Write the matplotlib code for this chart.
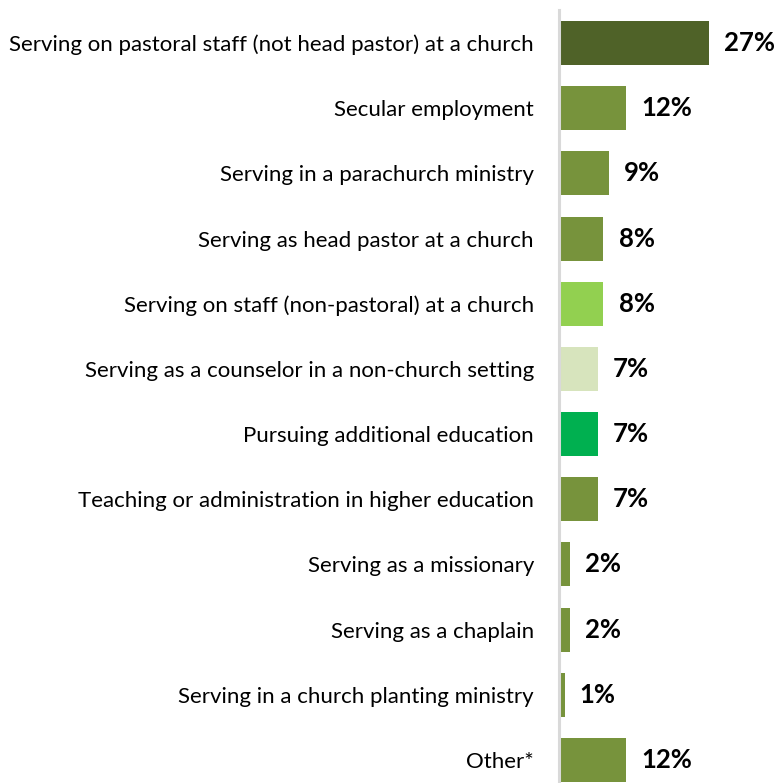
import matplotlib
matplotlib.use('Agg')
import matplotlib.pyplot as plt

categories = [
    'Serving on pastoral staff (not head pastor) at a church',
    'Secular employment',
    'Serving in a parachurch ministry',
    'Serving as head pastor at a church',
    'Serving on staff (non-pastoral) at a church',
    'Serving as a counselor in a non-church setting',
    'Pursuing additional education',
    'Teaching or administration in higher education',
    'Serving as a missionary',
    'Serving as a chaplain',
    'Serving in a church planting ministry',
    'Other*',
]
values = [27, 12, 9, 8, 8, 7, 7, 7, 2, 2, 1, 12]
colors = ['#4F6228', '#77933C', '#77933C', '#77933C', '#92D050', '#D7E4BD',
          '#00B050', '#77933C', '#77933C', '#77933C', '#77933C', '#77933C']

W, H = 778, 783
fig = plt.figure(figsize=(W / 100, H / 100), dpi=100)
ax = fig.add_axes([559 / W, 0, 1 - 559 / W, (783 - 10) / H])

y = list(range(len(categories)))
ax.barh(y, values, height=0.675, color=colors)
ax.set_xlim(0, (W - 559) / 5.56)
ax.set_ylim(11 + 23 / 65.2, -33 / 65.2)

for yi, v in zip(y, values):
    ax.annotate(f'{v}%', (v, yi), xytext=(11, 0), textcoords='offset points',
                ha='left', va='center', fontsize=18.5, fontweight='bold',
                family='Lato', color='black')

ax.set_yticks(y)
ax.set_yticklabels(categories, family='Lato', fontsize=16)
ax.tick_params(axis='y', length=0, pad=18)
ax.set_xticks([])
for side in ['top', 'right', 'bottom']:
    ax.spines[side].set_visible(False)
ax.spines['left'].set_color('#D9D9D9')
ax.spines['left'].set_linewidth(2.2)

fig.savefig('out.png', dpi=100)
